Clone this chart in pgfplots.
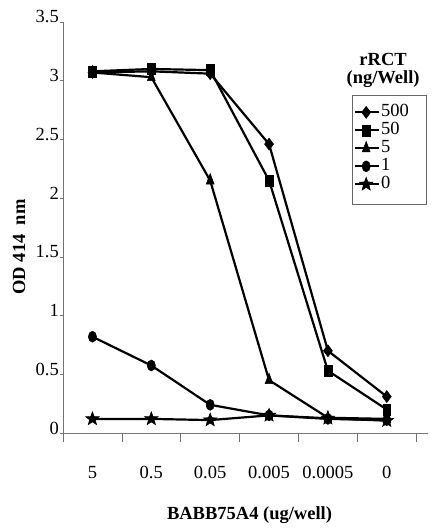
\documentclass[border=0pt]{standalone}
\usepackage{fontspec}
\setmainfont{Liberation Serif}
\usepackage{pgfplots}
\pgfplotsset{compat=1.18}
\pgfdeclareplotmark{fstar}{%
  \pgfpathmoveto{\pgfpointpolar{90}{\pgfplotmarksize}}%
  \pgfpathlineto{\pgfpointpolar{126}{0.42\pgfplotmarksize}}%
  \pgfpathlineto{\pgfpointpolar{162}{\pgfplotmarksize}}%
  \pgfpathlineto{\pgfpointpolar{198}{0.42\pgfplotmarksize}}%
  \pgfpathlineto{\pgfpointpolar{234}{\pgfplotmarksize}}%
  \pgfpathlineto{\pgfpointpolar{270}{0.42\pgfplotmarksize}}%
  \pgfpathlineto{\pgfpointpolar{306}{\pgfplotmarksize}}%
  \pgfpathlineto{\pgfpointpolar{342}{0.42\pgfplotmarksize}}%
  \pgfpathlineto{\pgfpointpolar{18}{\pgfplotmarksize}}%
  \pgfpathlineto{\pgfpointpolar{54}{0.42\pgfplotmarksize}}%
  \pgfpathclose
  \pgfusepathqfillstroke}
\begin{document}
\fontsize{18.5}{18}\selectfont
\begin{tikzpicture}
\begin{axis}[
  scale only axis,
  width=365pt, height=411pt,
  xmin=0.5, xmax=6.7, ymin=0, ymax=3.5,
  axis x line*=bottom, axis y line*=left,
  axis line style={black!55, line width=0.7pt},
  tick align=outside,
  major tick length=3pt,
  minor tick length=9pt,
  tick style={black!55, line width=0.7pt},
  /pgf/number format/assume math mode=true,
  font=\fontsize{18.5}{18}\selectfont,
  ytick={0,0.5,...,3.5},
  yticklabel style={anchor=base east, inner sep=0pt, xshift=-1pt, yshift=-1pt},
  xtick={1,2,3,4,5,6},
  xticklabels={5,0.5,0.05,0.005,0.0005,0},
  every major x tick/.append style={opacity=0},
  minor xtick={0.5,1.5,...,6.5},
  xticklabel style={anchor=base, inner sep=0pt, yshift=-42pt},
  xlabel={\bfseries BABB75A4 (ug/well)},
  xlabel style={at={(axis description cs:0.511,-0.1995)}, anchor=center},
  ylabel={\bfseries OD 414\ \ nm},
  ylabel style={at={(axis description cs:-0.1205,0.4526)}, anchor=center},
  every axis plot/.append style={black, line width=2.2pt},
  legend image code/.code={\draw[mark repeat=2,mark phase=2, line width=1.8pt] plot coordinates {(0pt,0pt) (11pt,0pt) (24pt,0pt)};},
  legend style={draw=none, fill=none, at={(axis description cs:0.792,0.822)}, anchor=north west,
    inner xsep=2pt, inner ysep=8pt,
    nodes={inner sep=0pt, text height=13pt, text depth=5pt, font=\fontsize{18.5}{18}\selectfont},
    column sep=1pt},
  legend cell align=left,
]
\addplot[mark=diamond*, mark size=6pt, mark options={solid, line width=0.5pt}] coordinates {
 (1,3.07) (2,3.08) (3,3.06) (4,2.46) (5,0.70) (6,0.31)};
\addplot[mark=square*, mark size=5.5pt, mark options={xscale=0.7, solid, line width=0.5pt}] coordinates {
 (1,3.08) (2,3.10) (3,3.09) (4,2.15) (5,0.53) (6,0.20)};
\addplot[mark=triangle*, mark size=7pt, mark options={xscale=0.65, solid, line width=0.5pt}] coordinates {
 (1,3.07) (2,3.03) (3,2.15) (4,0.45) (5,0.13) (6,0.12)};
\addplot[mark=*, mark size=5.5pt, mark options={xscale=0.75, solid, line width=0.5pt}] coordinates {
 (1,0.82) (2,0.575) (3,0.24) (4,0.15) (5,0.12) (6,0.11)};
\addplot[mark=fstar, mark size=7pt, mark options={solid, fill=black, line width=0.6pt}] coordinates {
 (1,0.12) (2,0.12) (3,0.11) (4,0.15) (5,0.125) (6,0.105)};
\legend{500,50,5,1,0}
\draw[black!60, line width=0.7pt] (axis description cs:0.792,0.822) rectangle (axis description cs:0.996,0.557);
\node[align=center, inner sep=0pt, font=\bfseries\fontsize{18.5}{18}\selectfont] at (axis description cs:0.877,0.883) {rRCT\\(ng/Well)};
\end{axis}
\path (current axis.south west) ++(-63pt,-99pt) rectangle ++(439pt,532pt);
\end{tikzpicture}
\end{document}
